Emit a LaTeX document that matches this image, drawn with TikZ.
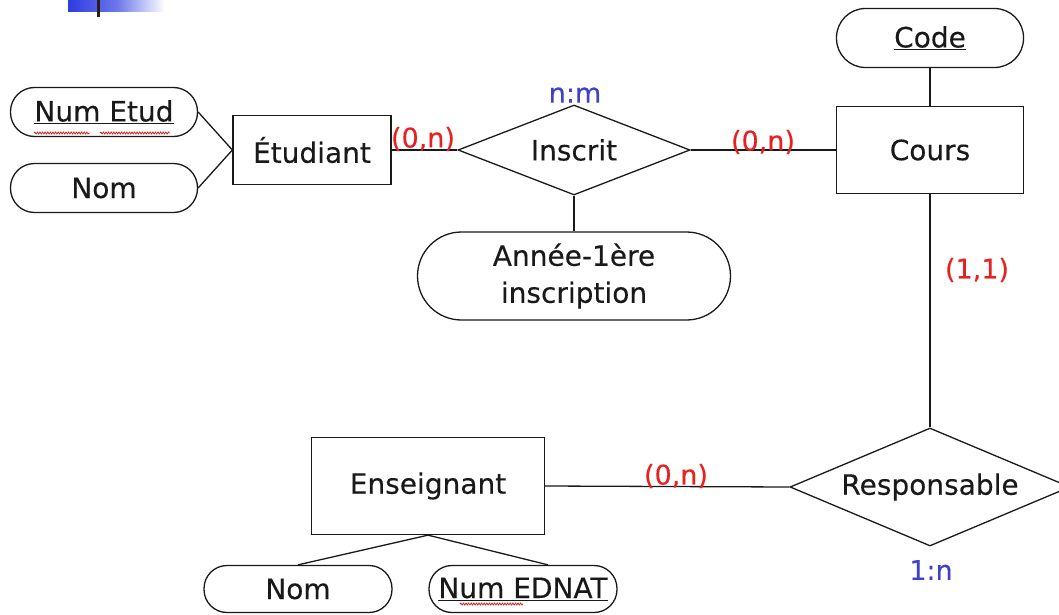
\documentclass[tikz,border=0pt]{standalone}
\usepackage{fontspec}
\setmainfont{DejaVu Sans}[FakeBold=0.25]
\usetikzlibrary{shapes.geometric,calc,decorations.pathmorphing}
\definecolor{cardred}{RGB}{232,32,32}
\definecolor{assocblue}{RGB}{64,64,204}
\definecolor{barblue}{RGB}{45,60,225}
\definecolor{bardark}{RGB}{40,32,20}
\definecolor{spellred}{RGB}{200,40,40}
\definecolor{ink}{RGB}{25,25,25}

\begin{document}
\begin{tikzpicture}[x=1pt,y=-1pt,line width=1.3pt,draw=ink,
  every node/.style={font=\fontsize{28}{37}\selectfont,inner sep=0pt,text=ink},
  entity/.style={draw,rectangle},
  attr/.style={draw,rectangle,rounded corners=#1},
  attr/.default=24pt,
  relation/.style={draw,diamond},
  card/.style={text=cardred,font=\fontsize{27}{32}\selectfont},
  kind/.style={text=assocblue,font=\fontsize{27}{32}\selectfont},
  squiggle/.style={spellred,line width=0.8pt,decorate,
    decoration={snake,amplitude=1pt,segment length=2.6pt}}]
\useasboundingbox (0,0) rectangle (1059,615);
\clip (0,0) rectangle (1059,615);

% slide bullet bar in the corner
\shade[left color=barblue,right color=white,middle color=barblue!70!white]
  (68,0) rectangle (165,12);
\fill[bardark] (97,0) rectangle (100,17);

% entities
\node[entity,minimum width=158pt,minimum height=69pt] (etud) at (312,150) {Étudiant};
\node[entity,minimum width=187pt,minimum height=87pt] (cours) at (930,150) {Cours};
\node[entity,minimum width=233pt,minimum height=97pt] (ens) at (428,486) {Enseignant};

% relationships
\node[relation,aspect=2.58,minimum width=232pt,minimum height=90pt] (inscrit) at (574,150) {Inscrit};
\node[relation,aspect=2.37,minimum width=280pt,minimum height=118pt] (resp) at (930,487) {Responsable};

% attributes
\node[attr,minimum width=187pt,minimum height=49pt] (numetud) at (104,112) {\underline{Num Etud}};
\node[attr,minimum width=187pt,minimum height=49pt] (nometud) at (104,188) {Nom};
\node[attr=29pt,minimum width=187pt,minimum height=59pt] (code) at (930,38) {\underline{Code}};
\node[attr=44pt,minimum width=313pt,minimum height=88pt,align=center] (annee) at (574,276)
  {Année-1ère\\inscription};
\node[attr=23pt,minimum width=188pt,minimum height=47pt] (nomens) at (298,589) {Nom};
\node[attr=23pt,minimum width=188pt,minimum height=47pt] (numednat) at (523,589) {\underline{Num EDNAT}};

% spelling marks under identifiers
\draw[squiggle] ($(numetud.center)+(-70,21)$) -- ($(numetud.center)+(-14,21)$);
\draw[squiggle] ($(numetud.center)+(-4,21)$) -- ($(numetud.center)+(66,21)$);
\draw[squiggle] ($(numednat.center)+(-63,15)$) -- ($(numednat.center)+(0,15)$);

% connectors
\draw (numetud.east) -- (etud.west);
\draw (nometud.east) -- (etud.west);
\draw (etud.east) -- (inscrit.west);
\draw (inscrit.east) -- (cours.west);
\draw (inscrit.south) -- (annee.north);
\draw (code.south) -- (cours.north);
\draw (cours.south) -- (resp.north);
\draw (ens.east) -- (resp.west);
\draw (ens.south) -- (nomens.north);
\draw (ens.south) -- ([xshift=25pt]numednat.north);

% cardinalities
\node[card] (c1) at (423,139) {(0,n)};
\node[card] (c2) at (763,142) {(0,n)};
\node[card] (c3) at (977,270) {(1,1)};
\node[card] (c4) at (676,476) {(0,n)};

% association kinds
\node[kind] (k1) at (575,95) {n:m};
\node[kind] (k2) at (931,570) {1:n};
\end{tikzpicture}
\end{document}
